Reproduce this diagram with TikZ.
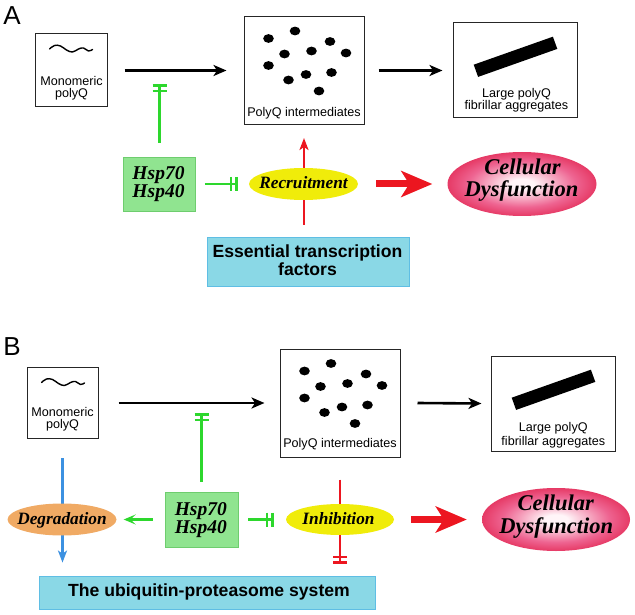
\documentclass[tikz,border=0pt]{standalone}
\usepackage{fontspec}
\setmainfont{Liberation Sans}
\newfontfamily\tnrfont{Liberation Serif}
\usetikzlibrary{arrows.meta,shapes.geometric,calc}
\definecolor{hspfill}{RGB}{144,228,144}
\definecolor{hspline}{RGB}{110,205,110}
\definecolor{tffill}{RGB}{138,216,230}
\definecolor{tfline}{RGB}{95,190,228}
\definecolor{ylw}{RGB}{240,236,10}
\definecolor{orng}{RGB}{240,170,100}
\definecolor{grn}{RGB}{45,215,45}
\definecolor{rd}{RGB}{236,22,32}
\definecolor{blu}{RGB}{60,145,225}
\definecolor{cdin}{RGB}{255,245,248}
\definecolor{cdmid}{RGB}{238,100,145}
\definecolor{cdout}{RGB}{222,16,58}
\pgfdeclareradialshading{cdshade}{\pgfpoint{0bp}{0bp}}{color(0bp)=(cdin); color(4bp)=(cdin); color(18bp)=(cdmid); color(32bp)=(cdout); color(50bp)=(cdout)}
\pgfdeclarelayer{bg}
\pgfsetlayers{bg,main}
\begin{document}
\begin{tikzpicture}[x=1pt,y=-1pt,
 frame/.style={rectangle, draw=black!85, line width=1pt, inner sep=0pt},
 sans/.style={inner sep=0pt, anchor=base, font=\fontsize{12.6}{13}\selectfont},
 bsans/.style={inner sep=0pt, anchor=base, font=\bfseries\fontsize{17.6}{18}\selectfont},
 bi/.style={inner sep=0pt, anchor=base, font=\tnrfont\bfseries\itshape\fontsize{#1}{#1}\selectfont},
 panel/.style={inner sep=0pt, anchor=base, font=\fontsize{26}{26}\selectfont},
 hspbox/.style={rectangle, draw=hspline, fill=hspfill, line width=0.8pt, inner sep=0pt, minimum width=72pt, minimum height=54pt},
 bluebox/.style={rectangle, draw=tfline, fill=tffill, line width=0.8pt, inner sep=0pt},
 yell/.style={ellipse, fill=ylw, inner sep=0pt, minimum width=109pt, minimum height=32pt},
 oell/.style={ellipse, fill=orng, inner sep=0pt, minimum width=109pt, minimum height=32pt},
 cdell/.style={ellipse, shading=cdshade, inner sep=0pt, minimum width=149pt, minimum height=64pt},
 flow/.style={line width=2.6pt, -{Stealth[length=13pt,width=11pt,inset=3.5pt]}},
 thinarrow/.style={line width=2.2pt, -{Stealth[length=12pt,width=9pt,inset=3pt]}},
 inhib/.style={line width=2.6pt, -{Bar[width=14pt,sep=3pt]Bar[width=14pt]}},
 bigarrow/.style={draw=rd, line width=7pt, -{Stealth[length=31pt,width=26pt,inset=8pt]}},
 wave/.style={line width=1.4pt, line cap=round}
]
\useasboundingbox (0,0) rectangle (635,615);

% ---------------- Panel A ----------------
\node[panel] (labA) at (12,25) {A};
\node[frame, minimum width=72pt, minimum height=73pt] (monoA) at (71,70.5) {};
\node[frame, minimum width=120pt, minimum height=108pt] (polyA) at (304,70.5) {};
\node[frame, minimum width=124pt, minimum height=95pt] (largeA) at (515,70.5) {};
\node[hspbox] (hspA) at (159.5,184) {};
\node[yell] (recA) at (303.5,184) {};
\node[cdell] (cdA) at (522,184) {};
\node[bluebox, minimum width=202pt, minimum height=49pt] (tfA) at (308,261.5) {};

\node[sans] (monoAt1) at (71.5,86) {Monomeric};
\node[sans] (monoAt2) at (71.5,98) {polyQ};
\node[sans] (polyAt) at (304,116.7) {PolyQ intermediates};
\node[sans] (largeAt1) at (516.5,98) {Large polyQ};
\node[sans] (largeAt2) at (516.5,110) {fibrillar aggregates};
\node[bi=19.5] (hspAt1) at (158.5,180) {Hsp70};
\node[bi=19.5] (hspAt2) at (158.5,198) {Hsp40};
\node[bi=17.3] (recAt) at (303.5,189) {Recruitment};
\node[bi=22.5] (cdAt1) at (522.5,175) {Cellular};
\node[bi=22.5] (cdAt2) at (521.5,196.7) {Dysfunction};
\node[bsans] (tfAt1) at (307.5,258) {Essential transcription};
\node[bsans] (tfAt2) at (307.5,275) {factors};

\begin{scope}[shift={(monoA.north west)}]
 \draw[wave] plot[smooth, tension=0.7] coordinates {(15,15.5) (20,12) (26,12.5) (32,16.5) (38,18.5) (44,15.5) (49,14.5) (54,17.5) (58,16)};
\end{scope}
\begin{scope}[shift={(polyA.north west)}]
 \foreach \p in {(25,22.5),(51.5,15),(41,38),(68,35),(86.5,25.5),(102.5,37),(25,49.5),(45,64),(62.5,58.5),(88,56.5),(75.5,75)}
  \fill \p ellipse [x radius=5.3pt, y radius=4.4pt];
\end{scope}
\begin{scope}[shift={(largeA.north west)}]
 \fill (100.4,14.2) -- (104.8,26.4) -- (25.6,54.4) -- (21.2,42.2) -- cycle;
\end{scope}

% ---------------- Panel B ----------------
\node[panel] (labB) at (12,355) {B};
\node[frame, minimum width=71pt, minimum height=71pt] (monoB) at (62.5,403) {};
\node[frame, minimum width=120pt, minimum height=108pt] (polyB) at (340,403) {};
\node[frame, minimum width=124pt, minimum height=95pt] (largeB) at (553,403.5) {};
\node[hspbox, minimum width=73pt, minimum height=55pt] (hspB) at (201.5,519.5) {};
\node[oell] (degB) at (62,519.5) {};
\node[yell, minimum width=108pt, minimum height=31pt] (inhB) at (340,519.5) {};
\node[cdell, minimum width=148pt, minimum height=63pt] (cdB) at (556,519.5) {};
\node[bluebox, minimum width=336pt, minimum height=33pt] (upsB) at (207,592.5) {};

\node[sans] (monoBt1) at (62.5,416.7) {Monomeric};
\node[sans] (monoBt2) at (62.5,428.3) {polyQ};
\node[sans] (polyBt) at (340,447.7) {PolyQ intermediates};
\node[sans] (largeBt1) at (553.3,431.7) {Large polyQ};
\node[sans] (largeBt2) at (553.3,445) {fibrillar aggregates};
\node[bi=19.5] (hspBt1) at (200.8,515) {Hsp70};
\node[bi=19.5] (hspBt2) at (200.8,533.3) {Hsp40};
\node[bi=17.3] (degBt) at (62,524.5) {Degradation};
\node[bi=17.3] (inhBt) at (338.5,524) {Inhibition};
\node[bi=22.5] (cdBt1) at (555.8,510.7) {Cellular};
\node[bi=22.5] (cdBt2) at (556.3,533.3) {Dysfunction};
\node[bsans] (upsBt) at (209,596.7) {The ubiquitin-proteasome system};

\begin{scope}[shift={(monoB.north west)}]
 \draw[wave] plot[smooth, tension=0.7] coordinates {(15,15.5) (20,12) (26,12.5) (32,16.5) (38,18.5) (44,15.5) (49,14.5) (54,17.5) (58,16)};
\end{scope}
\begin{scope}[shift={(polyB.north west)}]
 \foreach \p in {(25,22.5),(51.5,15),(41,38),(68,35),(86.5,25.5),(102.5,37),(25,49.5),(45,64),(62.5,58.5),(88,56.5),(75.5,75)}
  \fill \p ellipse [x radius=5.3pt, y radius=4.4pt];
\end{scope}
\begin{scope}[shift={(largeB.north west)}]
 \fill (100.4,14.2) -- (104.8,26.4) -- (25.6,54.4) -- (21.2,42.2) -- cycle;
\end{scope}

\coordinate (ihA) at (159.5,84);
\coordinate (ihB) at (201.5,413);

% ---------------- connectors ----------------
\begin{pgfonlayer}{bg}
 % A
 \draw[flow] ($(monoA.east)+(17,0)$) -- ($(polyA.west)+(-17,0)$);
 \draw[flow] ($(polyA.east)+(14,0)$) -- ($(largeA.west)+(-10,0)$);
 \draw[inhib, grn] ($(hspA.north)+(0,-14)$) -- (ihA);
 \draw[inhib, grn] ($(hspA.east)+(9,0)$) -- ($(recA.west)+(-11,0)$);
 \draw[thinarrow, rd] ($(tfA.north -| polyA.south)+(0,-12)$) -- ($(polyA.south)+(0,13)$);
 \draw[bigarrow] ($(recA.east)+(18,0)$) -- ($(cdA.west)+(-15,0)$);
 % B
 \draw[flow] ($(monoB.east)+(20,0)$) -- ($(polyB.west)+(-15,0)$);
 \draw[flow] ($(polyB.east)+(17,0)$) -- ($(largeB.west)+(-9,0)$);
 \draw[inhib, grn] ($(hspB.north)+(0,-10)$) -- (ihB);
 \draw[inhib, grn] ($(hspB.east)+(10,0)$) -- ($(inhB.west)+(-12,0)$);
 \draw[grn, line width=2.6pt, -{Stealth[length=12pt,width=10pt,inset=5pt]}] ($(hspB.west)+(-12,0)$) -- ($(degB.east)+(7,0)$);
 \draw[thinarrow, blu] ($(monoB.south)+(0,19)$) -- ($(monoB.south |- upsB.north)+(0,-13)$);
 \draw[rd, line width=2.2pt] ($(polyB.south)+(0,22)$) -- (inhB.north);
 \draw[inhib, rd, line width=2.2pt] (inhB.south) -- ($(inhB.south |- upsB.north)+(0,-12)$);
 \draw[bigarrow] ($(inhB.east)+(17,0)$) -- ($(cdB.west)+(-15,0)$);
\end{pgfonlayer}
\end{tikzpicture}
\end{document}
